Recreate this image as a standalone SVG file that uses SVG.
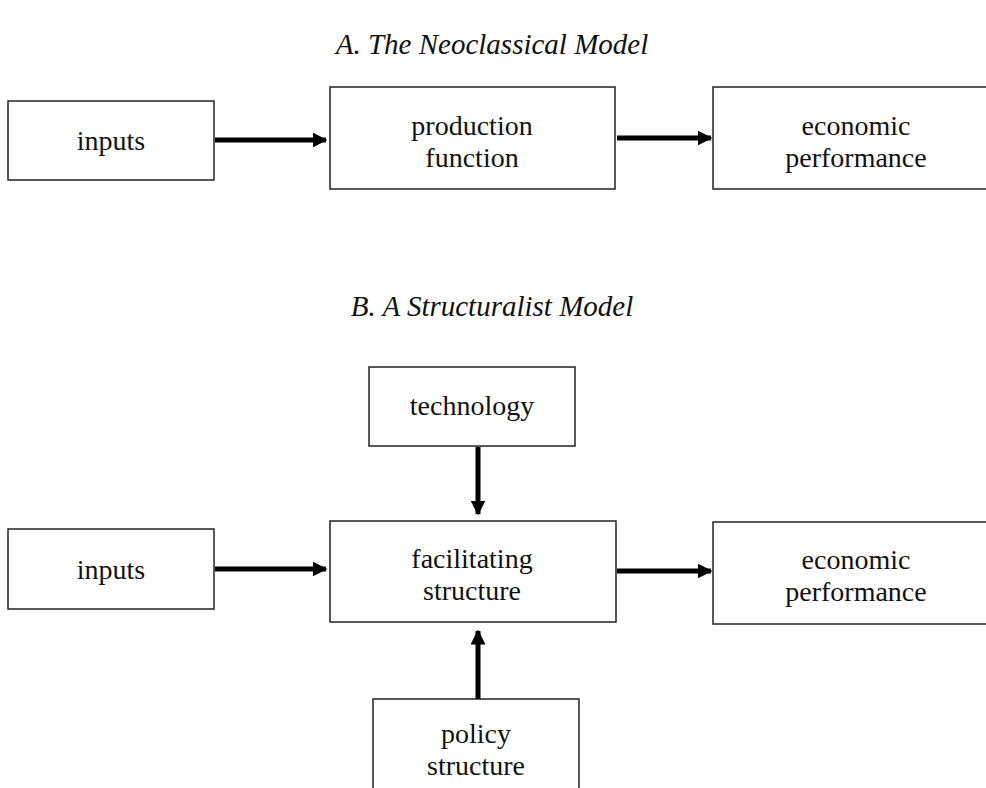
<svg xmlns="http://www.w3.org/2000/svg" width="986" height="788" viewBox="0 0 986 788">
<defs>
<style>
.box{fill:#fff;stroke:#222;stroke-width:1.5}
.t{font-family:"Liberation Serif",serif;font-size:28px;fill:#111;text-anchor:middle}
.title{font-family:"Liberation Serif",serif;font-style:italic;font-size:29px;fill:#111;text-anchor:middle}
.c{stroke:#000;stroke-width:5;fill:none;marker-end:url(#ah)}
</style>
<marker id="ah" viewBox="0 0 10 10" refX="9" refY="5" markerWidth="3" markerHeight="3" orient="auto" markerUnits="strokeWidth">
<path d="M0,0 L10,5 L0,10 z" fill="#000"/>
</marker>
</defs>
<rect width="986" height="788" fill="#fff"/>
<text class="title" x="492" y="54">A. The Neoclassical Model</text>
<text class="title" x="492" y="316">B. A Structuralist Model</text>
<g id="connectors">
<line class="c" x1="215" y1="140" x2="326" y2="140"/>
<line class="c" x1="617" y1="138" x2="711" y2="138"/>
<line class="c" x1="215" y1="569" x2="326" y2="569"/>
<line class="c" x1="617" y1="571" x2="711" y2="571"/>
<line class="c" x1="478" y1="447" x2="478" y2="514"/>
<line class="c" x1="478" y1="699" x2="478" y2="631"/>
</g>
<g id="a_inputs"><rect class="box" x="8" y="101" width="206" height="79"/><text class="t" x="111" y="150">inputs</text></g>
<g id="a_production"><rect class="box" x="330" y="87" width="285" height="102"/><text class="t" x="472" y="135">production</text><text class="t" x="472" y="167">function</text></g>
<g id="a_economic"><rect class="box" x="713" y="87" width="290" height="102"/><text class="t" x="856" y="135">economic</text><text class="t" x="856" y="167">performance</text></g>
<g id="b_technology"><rect class="box" x="369" y="367" width="206" height="79"/><text class="t" x="472" y="415">technology</text></g>
<g id="b_inputs"><rect class="box" x="8" y="529" width="206" height="80"/><text class="t" x="111" y="579">inputs</text></g>
<g id="b_facilitating"><rect class="box" x="330" y="521" width="286" height="101"/><text class="t" x="472" y="568">facilitating</text><text class="t" x="472" y="600">structure</text></g>
<g id="b_economic"><rect class="box" x="713" y="522" width="290" height="102"/><text class="t" x="856" y="569">economic</text><text class="t" x="856" y="601">performance</text></g>
<g id="b_policy"><rect class="box" x="373" y="699" width="206" height="100"/><text class="t" x="476" y="743">policy</text><text class="t" x="476" y="775">structure</text></g>
</svg>
